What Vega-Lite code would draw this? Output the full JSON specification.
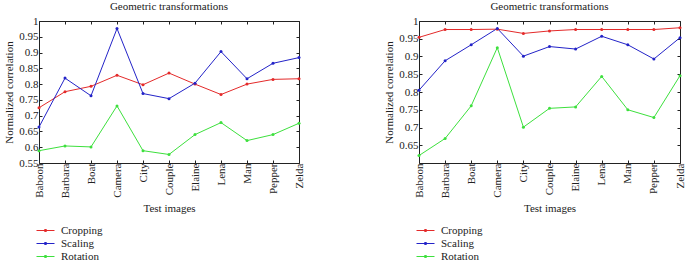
{
  "$schema": "https://vega.github.io/schema/vega-lite/v6.json",
  "padding": {"left": 3, "top": 0, "right": 0, "bottom": 0},
  "config": {
    "font": "Liberation Serif, Times New Roman, serif",
    "view": {"stroke": "#222", "strokeWidth": 1},
    "axis": {"domain": false, "grid": false, "tickSize": -3, "tickColor": "#222", "labelFont": "Liberation Serif, Times New Roman, serif", "titleFont": "Liberation Serif, Times New Roman, serif", "labelFontSize": 11, "titleFontSize": 11, "titleFontWeight": "normal", "labelColor": "#222", "titleColor": "#222"},
    "legend": {"labelFont": "Liberation Serif, Times New Roman, serif", "labelFontSize": 11, "labelColor": "#222"},
    "title": {"font": "Liberation Serif, Times New Roman, serif", "fontSize": 11, "fontWeight": "normal", "color": "#222", "offset": 3}
  },
  "datasets": {
    "left": [
      {"image": "Baboon", "series": "Cropping", "value": 0.725},
      {"image": "Barbara", "series": "Cropping", "value": 0.776},
      {"image": "Boat", "series": "Cropping", "value": 0.793},
      {"image": "Camera", "series": "Cropping", "value": 0.828},
      {"image": "City", "series": "Cropping", "value": 0.798},
      {"image": "Couple", "series": "Cropping", "value": 0.835},
      {"image": "Elaine", "series": "Cropping", "value": 0.8},
      {"image": "Lena", "series": "Cropping", "value": 0.767},
      {"image": "Man", "series": "Cropping", "value": 0.8},
      {"image": "Pepper", "series": "Cropping", "value": 0.815},
      {"image": "Zelda", "series": "Cropping", "value": 0.817},
      {"image": "Baboon", "series": "Scaling", "value": 0.664},
      {"image": "Barbara", "series": "Scaling", "value": 0.819},
      {"image": "Boat", "series": "Scaling", "value": 0.763},
      {"image": "Camera", "series": "Scaling", "value": 0.976},
      {"image": "City", "series": "Scaling", "value": 0.77},
      {"image": "Couple", "series": "Scaling", "value": 0.754},
      {"image": "Elaine", "series": "Scaling", "value": 0.803},
      {"image": "Lena", "series": "Scaling", "value": 0.903},
      {"image": "Man", "series": "Scaling", "value": 0.817},
      {"image": "Pepper", "series": "Scaling", "value": 0.866},
      {"image": "Zelda", "series": "Scaling", "value": 0.884},
      {"image": "Baboon", "series": "Rotation", "value": 0.589},
      {"image": "Barbara", "series": "Rotation", "value": 0.604},
      {"image": "Boat", "series": "Rotation", "value": 0.601},
      {"image": "Camera", "series": "Rotation", "value": 0.731},
      {"image": "City", "series": "Rotation", "value": 0.589},
      {"image": "Couple", "series": "Rotation", "value": 0.577},
      {"image": "Elaine", "series": "Rotation", "value": 0.64},
      {"image": "Lena", "series": "Rotation", "value": 0.678},
      {"image": "Man", "series": "Rotation", "value": 0.621},
      {"image": "Pepper", "series": "Rotation", "value": 0.64},
      {"image": "Zelda", "series": "Rotation", "value": 0.676}
    ],
    "right": [
      {"image": "Baboon", "series": "Cropping", "value": 0.954},
      {"image": "Barbara", "series": "Cropping", "value": 0.976},
      {"image": "Boat", "series": "Cropping", "value": 0.976},
      {"image": "Camera", "series": "Cropping", "value": 0.977},
      {"image": "City", "series": "Cropping", "value": 0.965},
      {"image": "Couple", "series": "Cropping", "value": 0.972},
      {"image": "Elaine", "series": "Cropping", "value": 0.976},
      {"image": "Lena", "series": "Cropping", "value": 0.976},
      {"image": "Man", "series": "Cropping", "value": 0.976},
      {"image": "Pepper", "series": "Cropping", "value": 0.976},
      {"image": "Zelda", "series": "Cropping", "value": 0.981},
      {"image": "Baboon", "series": "Scaling", "value": 0.805},
      {"image": "Barbara", "series": "Scaling", "value": 0.888},
      {"image": "Boat", "series": "Scaling", "value": 0.933},
      {"image": "Camera", "series": "Scaling", "value": 0.979},
      {"image": "City", "series": "Scaling", "value": 0.901},
      {"image": "Couple", "series": "Scaling", "value": 0.928},
      {"image": "Elaine", "series": "Scaling", "value": 0.921},
      {"image": "Lena", "series": "Scaling", "value": 0.957},
      {"image": "Man", "series": "Scaling", "value": 0.933},
      {"image": "Pepper", "series": "Scaling", "value": 0.893},
      {"image": "Zelda", "series": "Scaling", "value": 0.953},
      {"image": "Baboon", "series": "Rotation", "value": 0.621},
      {"image": "Barbara", "series": "Rotation", "value": 0.669},
      {"image": "Boat", "series": "Rotation", "value": 0.761},
      {"image": "Camera", "series": "Rotation", "value": 0.925},
      {"image": "City", "series": "Rotation", "value": 0.701},
      {"image": "Couple", "series": "Rotation", "value": 0.754},
      {"image": "Elaine", "series": "Rotation", "value": 0.758},
      {"image": "Lena", "series": "Rotation", "value": 0.844},
      {"image": "Man", "series": "Rotation", "value": 0.75},
      {"image": "Pepper", "series": "Rotation", "value": 0.728},
      {"image": "Zelda", "series": "Rotation", "value": 0.846}
    ]
  },
  "resolve": {"scale": {"color": "independent"}, "legend": {"color": "independent"}},
  "spacing": 78,
  "hconcat": [
    {
      "width": 260, "height": 142,
      "title": "Geometric transformations",
      "data": {"name": "left"},
      "resolve": {"axis": {"x": "independent", "y": "independent"}},
      "layer": [
        {
          "mark": {"type": "line", "strokeWidth": 1, "point": {"filled": true, "size": 9}},
          "encoding": {
            "x": {"field": "image", "type": "nominal", "sort": ["Baboon","Barbara","Boat","Camera","City","Couple","Elaine","Lena","Man","Pepper","Zelda"], "scale": {"type": "point", "padding": 0}, "axis": {"title": "Test images", "labelAngle": 270, "labelPadding": 3, "titlePadding": 5}},
            "y": {"field": "value", "type": "quantitative", "scale": {"domain": [0.55, 1], "nice": false, "zero": false}, "axis": {"title": "Normalized correlation", "format": ".2~f", "values": [0.55,0.6,0.65,0.7,0.75,0.8,0.85,0.9,0.95,1], "labelPadding": 4, "titlePadding": 4}},
            "color": {"field": "series", "type": "nominal", "scale": {"domain": ["Cropping","Scaling","Rotation"], "range": ["#e42a2a", "#2323c8", "#3de03d"]},
              "legend": {"title": null, "orient": "none", "legendX": 0, "legendY": 203, "direction": "vertical", "symbolType": "M-1.5,0L1.5,0M-0.15,-0.15L0.15,-0.15L0.15,0.15L-0.15,0.15Z", "symbolSize": 144, "symbolStrokeWidth": 1, "rowPadding": 1, "labelOffset": 9}}
          }
        },
        {
          "mark": {"type": "point", "opacity": 0},
          "encoding": {
            "x": {"field": "image", "type": "nominal", "sort": ["Baboon","Barbara","Boat","Camera","City","Couple","Elaine","Lena","Man","Pepper","Zelda"], "axis": {"orient": "top", "labels": false, "title": null}},
            "y": {"field": "value", "type": "quantitative", "axis": {"orient": "right", "labels": false, "title": null, "values": [0.55,0.6,0.65,0.7,0.75,0.8,0.85,0.9,0.95,1]}}
          }
        }
      ]
    },
    {
      "width": 261, "height": 142,
      "title": "Geometric transformations",
      "data": {"name": "right"},
      "resolve": {"axis": {"x": "independent", "y": "independent"}},
      "layer": [
        {
          "mark": {"type": "line", "strokeWidth": 1, "point": {"filled": true, "size": 9}},
          "encoding": {
            "x": {"field": "image", "type": "nominal", "sort": ["Baboon","Barbara","Boat","Camera","City","Couple","Elaine","Lena","Man","Pepper","Zelda"], "scale": {"type": "point", "padding": 0}, "axis": {"title": "Test images", "labelAngle": 270, "labelPadding": 3, "titlePadding": 5}},
            "y": {"field": "value", "type": "quantitative", "scale": {"domain": [0.6, 1], "nice": false, "zero": false}, "axis": {"title": "Normalized correlation", "format": ".2~f", "values": [0.65,0.7,0.75,0.8,0.85,0.9,0.95,1], "labelPadding": 4, "titlePadding": 4}},
            "color": {"field": "series", "type": "nominal", "scale": {"domain": ["Cropping","Scaling","Rotation"], "range": ["#e42a2a", "#2323c8", "#3de03d"]},
              "legend": {"title": null, "orient": "none", "legendX": 0, "legendY": 203, "direction": "vertical", "symbolType": "M-1.5,0L1.5,0M-0.15,-0.15L0.15,-0.15L0.15,0.15L-0.15,0.15Z", "symbolSize": 144, "symbolStrokeWidth": 1, "rowPadding": 1, "labelOffset": 9}}
          }
        },
        {
          "mark": {"type": "point", "opacity": 0},
          "encoding": {
            "x": {"field": "image", "type": "nominal", "sort": ["Baboon","Barbara","Boat","Camera","City","Couple","Elaine","Lena","Man","Pepper","Zelda"], "axis": {"orient": "top", "labels": false, "title": null}},
            "y": {"field": "value", "type": "quantitative", "axis": {"orient": "right", "labels": false, "title": null, "values": [0.65,0.7,0.75,0.8,0.85,0.9,0.95,1]}}
          }
        }
      ]
    }
  ]
}
